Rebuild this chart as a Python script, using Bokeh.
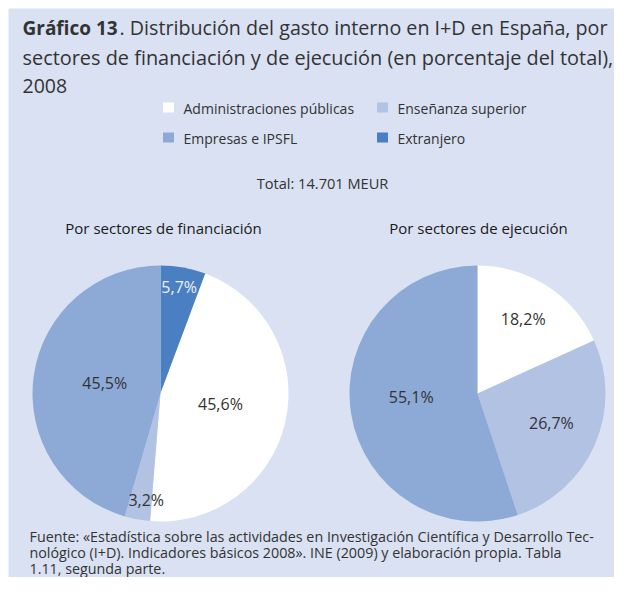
import math
from bokeh.plotting import figure
from bokeh.models import Range1d, ColumnDataSource
from bokeh.core.properties import value
from bokeh.embed import file_html
from bokeh.resources import INLINE

# ---- data ----
categories = ["Administraciones públicas", "Enseñanza superior", "Empresas e IPSFL", "Extranjero"]
cat_colors = ["#FFFFFF", "#B2C2E3", "#8DAAD7", "#4A7FC2"]

fin_cats = ["Extranjero", "Administraciones públicas", "Enseñanza superior", "Empresas e IPSFL"]
fin_values = [5.7, 45.6, 3.2, 45.5]
fin_labels = ["5,7%", "45,6%", "3,2%", "45,5%"]

eje_cats = ["Administraciones públicas", "Enseñanza superior", "Empresas e IPSFL"]
eje_values = [18.2, 26.7, 55.1]
eje_labels = ["18,2%", "26,7%", "55,1%"]

title_bold = "Gráfico 13"
title_lines = [". Distribución del gasto interno en I+D en España, por",
               "sectores de financiación y de ejecución (en porcentaje del total),",
               "2008"]
total_text = "Total: 14.701 MEUR"
sub_fin = "Por sectores de financiación"
sub_eje = "Por sectores de ejecución"
footer_lines = ["Fuente: «Estadística sobre las actividades en Investigación Científica y Desarrollo Tec-",
                "nológico (I+D). Indicadores básicos 2008». INE (2009) y elaboración propia. Tabla",
                "1.11, segunda parte."]

# ---- layout ----
BG = "#D9E1F2"
TXT = "#333333"
FONT = "Open Sans"
DESC = 0.293  # font descent share, used to put the alphabetic baseline where wanted
W, H = 614, 577
M = 8  # white margin shown in the reference

p = figure(width=W, height=H, output_backend="svg", toolbar_location=None,
           x_range=Range1d(M, W), y_range=Range1d(-H, -M),
           min_border=0, min_border_left=M, min_border_top=M, match_aspect=False)
p.axis.visible = False
p.grid.visible = False
p.outline_line_color = None
p.background_fill_color = BG
p.border_fill_color = "white"


def Y(y):
    return -y


def txt(x, y, s, size, align="left", color=TXT, style="normal"):
    p.text(x=[x], y=[Y(y - DESC * size)], text=[s], text_font=value(FONT),
           text_font_size=f"{size}px", text_align=align, text_baseline="alphabetic",
           text_color=color, text_font_style=style)


# title
txt(22, 33, title_bold, 19, style="bold")
txt(119, 33, title_lines[0], 19.7)
txt(22, 63, title_lines[1], 19.9)
txt(22, 91, title_lines[2], 19.5)

# legend
leg_pos = [(168, 107), (382, 107), (168, 137), (382, 137)]
for (lx, ly), cat, col in zip(leg_pos, categories, cat_colors):
    p.rect(x=[lx], y=[Y(ly)], width=11, height=10, fill_color=col, line_color=None)
    txt(lx + 15, ly + 5, cat, 14)

txt(322, 187, total_text, 14.6, align="center")
txt(163, 232, sub_fin, 15, align="center", color="#1A1A1A")
txt(478, 232, sub_eje, 15, align="center", color="#1A1A1A")


def pie(cx, cy, r, cats, vals, labels, label_r, label_nudge, label_colors):
    total = sum(vals)
    starts, ends, cols, lx, ly = [], [], [], [], []
    acc = 0.0
    for c, v, fr, nd in zip(cats, vals, label_r, label_nudge):
        a0 = math.pi / 2 - 2 * math.pi * acc / total
        a1 = math.pi / 2 - 2 * math.pi * (acc + v) / total
        starts.append(a1)
        ends.append(a0)
        cols.append(cat_colors[categories.index(c)])
        mid = (a0 + a1) / 2 + math.radians(nd)
        lx.append(cx + fr * r * math.cos(mid))
        ly.append(Y(cy) + fr * r * math.sin(mid) + 3)
        acc += v
    src = ColumnDataSource(dict(s=starts, e=ends, c=cols))
    p.wedge(x=cx, y=Y(cy), radius=r, start_angle="s", end_angle="e",
            fill_color="c", line_color=None, source=src)
    lsrc = ColumnDataSource(dict(x=lx, y=ly, t=labels, c=label_colors))
    p.text(x="x", y="y", text="t", text_color="c", source=lsrc, text_font=value(FONT),
           text_font_size="16px", text_align="center", text_baseline="middle")


pie(160, 393, 128, fin_cats, fin_values, fin_labels,
    [0.82, 0.48, 0.86, 0.44], [0, 0, 3, 0], ["#EEF2FA", TXT, TXT, TXT])
pie(477, 393, 128, eje_cats, eje_values, eje_labels,
    [0.66, 0.63, 0.52], [0, 0, -4], [TXT, TXT, TXT])

# footer
for i, line in enumerate(footer_lines):
    txt(29, 540 + 16 * i, line, 14.3)

open("out.html", "w").write(file_html(p, INLINE))
